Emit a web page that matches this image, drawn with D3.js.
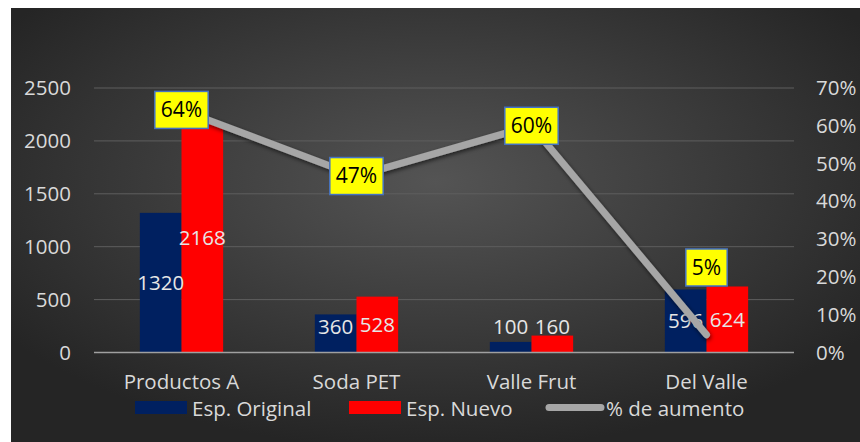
<!DOCTYPE html>
<html>
<head>
<meta charset="utf-8">
<script src="https://cdn.jsdelivr.net/npm/d3@7"></script>
<style>
  html, body { margin: 0; padding: 0; background: #fff; }
  svg { display: block; font-family: "Open Sans", sans-serif; }
</style>
</head>
<body>
<div id="chart"></div>
<script>
// data
var categories = ["Productos A", "Soda PET", "Valle Frut", "Del Valle"];
var espOriginal = [1320, 360, 100, 596];
var espNuevo = [2168, 528, 160, 624];
var aumento = [0.642, 0.467, 0.60, 0.047];
var leftTicks = [0, 500, 1000, 1500, 2000, 2500];
var rightTicks = [0, 0.1, 0.2, 0.3, 0.4, 0.5, 0.6, 0.7];
var seriesNames = ["Esp. Original", "Esp. Nuevo", "% de aumento"];

var width = 860, height = 442;
var margin = { top: 88, right: 66, bottom: 89.5, left: 94 };
var fs = "20.5px";

var svg = d3.select("#chart")
    .append("svg")
    .attr("width", width)
    .attr("height", height);

var defs = svg.append("defs");
var grad = defs.append("radialGradient")
    .attr("id", "bg")
    .attr("cx", "50%").attr("cy", "40%").attr("r", "62%");
grad.append("stop").attr("offset", "0%").attr("stop-color", "#545454");
grad.append("stop").attr("offset", "100%").attr("stop-color", "#252525");

var shadow = defs.append("filter").attr("id", "shadow")
    .attr("x", "-10%").attr("y", "-10%").attr("width", "120%").attr("height", "130%");
shadow.append("feDropShadow")
    .attr("dx", 1).attr("dy", 2).attr("stdDeviation", 2)
    .attr("flood-color", "#000").attr("flood-opacity", 0.6);

svg.append("rect")
    .attr("x", 11).attr("y", 8)
    .attr("width", width - 11).attr("height", height - 8)
    .attr("fill", "url(#bg)");

var x0 = d3.scaleBand()
    .domain(categories)
    .range([margin.left, width - margin.right])
    .paddingInner(0.524)
    .paddingOuter(0.262);

var x1 = d3.scaleBand()
    .domain([0, 1])
    .range([0, x0.bandwidth()]);

var y = d3.scaleLinear()
    .domain([0, 2500])
    .range([height - margin.bottom, margin.top]);

var y2 = d3.scaleLinear()
    .domain([0, 0.7])
    .range([height - margin.bottom, margin.top]);

// gridlines
svg.append("g")
    .selectAll("line")
    .data(leftTicks.slice(1))
    .enter()
    .append("line")
    .attr("x1", margin.left)
    .attr("x2", width - margin.right)
    .attr("y1", function (d) { return y(d); })
    .attr("y2", function (d) { return y(d); })
    .attr("stroke", "#5e5e5e")
    .attr("stroke-width", 1);

// left axis
var leftAxis = svg.append("g")
    .attr("transform", "translate(" + 71 + ",0)")
    .call(d3.axisLeft(y).tickValues(leftTicks).tickSize(0).tickPadding(0)
        .tickFormat(d3.format("d")));
leftAxis.select(".domain").remove();
leftAxis.selectAll("text")
    .attr("fill", "#d9d9d9")
    .style("font-size", fs)
    .style("font-family", "'Open Sans', sans-serif");

// right axis
var rightAxis = svg.append("g")
    .attr("transform", "translate(" + 816 + ",0)")
    .call(d3.axisRight(y2).tickValues(rightTicks).tickSize(0).tickPadding(0)
        .tickFormat(d3.format(".0%")));
rightAxis.select(".domain").remove();
rightAxis.selectAll("text")
    .attr("fill", "#d9d9d9")
    .style("font-size", fs)
    .style("font-family", "'Open Sans', sans-serif");

// bars
var colors = ["#002060", "#ff0000"];
var groups = svg.append("g")
    .selectAll("g")
    .data(categories)
    .enter()
    .append("g")
    .attr("transform", function (d) { return "translate(" + x0(d) + ",0)"; });

groups.selectAll("rect")
    .data(function (d, i) { return [espOriginal[i], espNuevo[i]]; })
    .enter()
    .append("rect")
    .attr("x", function (d, j) { return x1(j); })
    .attr("width", x1.bandwidth())
    .attr("y", function (d) { return y(d); })
    .attr("height", function (d) { return y(0) - y(d); })
    .attr("fill", function (d, j) { return colors[j]; });

// zero line
svg.append("line")
    .attr("x1", margin.left)
    .attr("x2", width - margin.right)
    .attr("y1", y(0))
    .attr("y2", y(0))
    .attr("stroke", "#a0a0a0")
    .attr("stroke-width", 1.5);

// bar labels
groups.selectAll("text")
    .data(function (d, i) { return [espOriginal[i], espNuevo[i]]; })
    .enter()
    .append("text")
    .attr("x", function (d, j) { return x1(j) + x1.bandwidth() / 2; })
    .attr("y", function (d) { return Math.min((y(d) + y(0)) / 2, y(0) - 26); })
    .attr("dy", "0.35em")
    .attr("text-anchor", "middle")
    .attr("fill", "#e6e6e6")
    .style("font-size", fs)
    .text(function (d) { return d; });

// line
var cx = function (i) { return x0(categories[i]) + x0.bandwidth() / 2; };
var line = d3.line()
    .x(function (d, i) { return cx(i); })
    .y(function (d) { return y2(d); });

svg.append("path")
    .datum(aumento)
    .attr("d", line)
    .attr("fill", "none")
    .attr("stroke", "#a6a6a6")
    .attr("stroke-width", 7)
    .attr("stroke-linejoin", "round")
    .attr("stroke-linecap", "round")
    .attr("filter", "url(#shadow)");

// line labels
var lbl = svg.append("g")
    .selectAll("g")
    .data(aumento)
    .enter()
    .append("g")
    .attr("transform", function (d, i) {
        var top = y(Math.max(espOriginal[i], espNuevo[i]));
        var py = y2(d);
        if (py > top) py = top - 19;
        return "translate(" + cx(i) + "," + py + ")";
    });

lbl.append("text")
    .attr("text-anchor", "middle")
    .attr("dy", "0.34em")
    .attr("fill", "#000")
    .style("font-size", "21px")
    .text(function (d) { return Math.round(d * 100) + "%"; });

lbl.insert("rect", "text")
    .each(function () {
        var bb = this.parentNode.querySelector("text").getBBox();
        d3.select(this)
            .attr("x", bb.x - 6)
            .attr("y", -18.5)
            .attr("width", bb.width + 12)
            .attr("height", 37);
    })
    .attr("fill", "#ffff00")
    .attr("stroke", "#4472c4")
    .attr("stroke-width", 1.5);

// category labels
svg.append("g")
    .selectAll("text")
    .data(categories)
    .enter()
    .append("text")
    .attr("x", function (d) { return x0(d) + x0.bandwidth() / 2; })
    .attr("y", 382)
    .attr("dy", "0.35em")
    .attr("text-anchor", "middle")
    .attr("fill", "#d9d9d9")
    .style("font-size", fs)
    .text(function (d) { return d; });

// legend
var legend = svg.append("g");
var legX = [135, 349, 546];
legend.selectAll("rect")
    .data(colors)
    .enter()
    .append("rect")
    .attr("x", function (d, i) { return legX[i]; })
    .attr("y", 401)
    .attr("width", 52)
    .attr("height", 13)
    .attr("fill", function (d) { return d; });

legend.append("line")
    .attr("x1", legX[2] + 3)
    .attr("x2", legX[2] + 55)
    .attr("y1", 407.5)
    .attr("y2", 407.5)
    .attr("stroke", "#a6a6a6")
    .attr("stroke-width", 7)
    .attr("stroke-linecap", "round");

legend.selectAll("text")
    .data(seriesNames)
    .enter()
    .append("text")
    .attr("x", function (d, i) { return legX[i] + (i == 2 ? 60 : 57); })
    .attr("y", 409)
    .attr("dy", "0.35em")
    .attr("fill", "#d9d9d9")
    .style("font-size", fs)
    .text(function (d) { return d; });
</script>
</body>
</html>
